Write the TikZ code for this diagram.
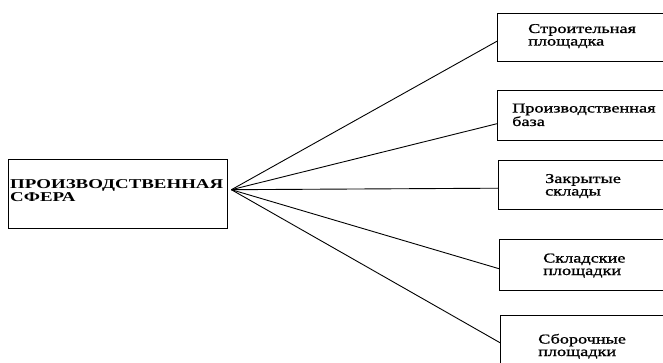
\documentclass[tikz,border=0pt]{standalone}
\usepackage{fontspec}
\setmainfont{Liberation Serif}
\newfontfamily\leftfont[FakeStretch=1.4]{Liberation Serif}
\newfontfamily\boxfont[FakeStretch=1.35,FakeBold=1.2]{Liberation Serif}
\begin{document}
\begin{tikzpicture}[x=1pt,y=-1pt,
  box/.style={draw=black, line width=1.4pt, inner sep=0pt, anchor=north west},
  conn/.style={draw=black, line width=0.9pt},
  lbl/.style={anchor=base west, inner sep=0pt, align=left, font=\boxfont\fontsize{13.5}{12.5}\selectfont},
  mainlbl/.style={anchor=base west, inner sep=0pt, align=left, font=\leftfont\bfseries\fontsize{13.5}{11}\selectfont}]
\useasboundingbox (0,0) rectangle (663,363);
\clip (0,0) rectangle (663,363);
% left box
\node[box, minimum width=219pt, minimum height=69pt] (main) at (8,159) {};
\node[mainlbl] (mt) at (10,201.5) {ПРОИЗВОДСТВЕННАЯ\\СФЕРА};
% right boxes
\node[box, minimum width=180pt, minimum height=48pt] (b1) at (497,13) {};
\node[box, minimum width=180pt, minimum height=50pt] (b2) at (497,90) {};
\node[box, minimum width=180pt, minimum height=49pt] (b3) at (498,160) {};
\node[box, minimum width=180pt, minimum height=51pt] (b4) at (499,239) {};
\node[box, minimum width=180pt, minimum height=60pt] (b5) at (500,315) {};
\node[lbl] (t1) at (528,45.5) {Строительная\\площадка};
\node[lbl] (t2) at (512,126) {Производственная\\база};
\node[lbl] (t3) at (545,195.5) {Закрытые\\склады};
\node[lbl] (t4) at (543,275) {Складские\\площадки};
\node[lbl] (t5) at (538,356) {Сборочные\\площадки};
% hub
\coordinate (hub) at ([xshift=3pt,yshift=4.5pt]main.east);
\draw[conn] (hub) -- ([yshift=-3.5pt]b1.west);
\draw[conn] (hub) -- ([yshift=-8pt]b2.west);
\draw[conn] (hub) -- ([yshift=-3pt]b3.west);
\draw[conn] (hub) -- ([yshift=-3.5pt]b4.west);
\draw[conn] (hub) -- ([yshift=3pt]b5.west);
\end{tikzpicture}
\end{document}
